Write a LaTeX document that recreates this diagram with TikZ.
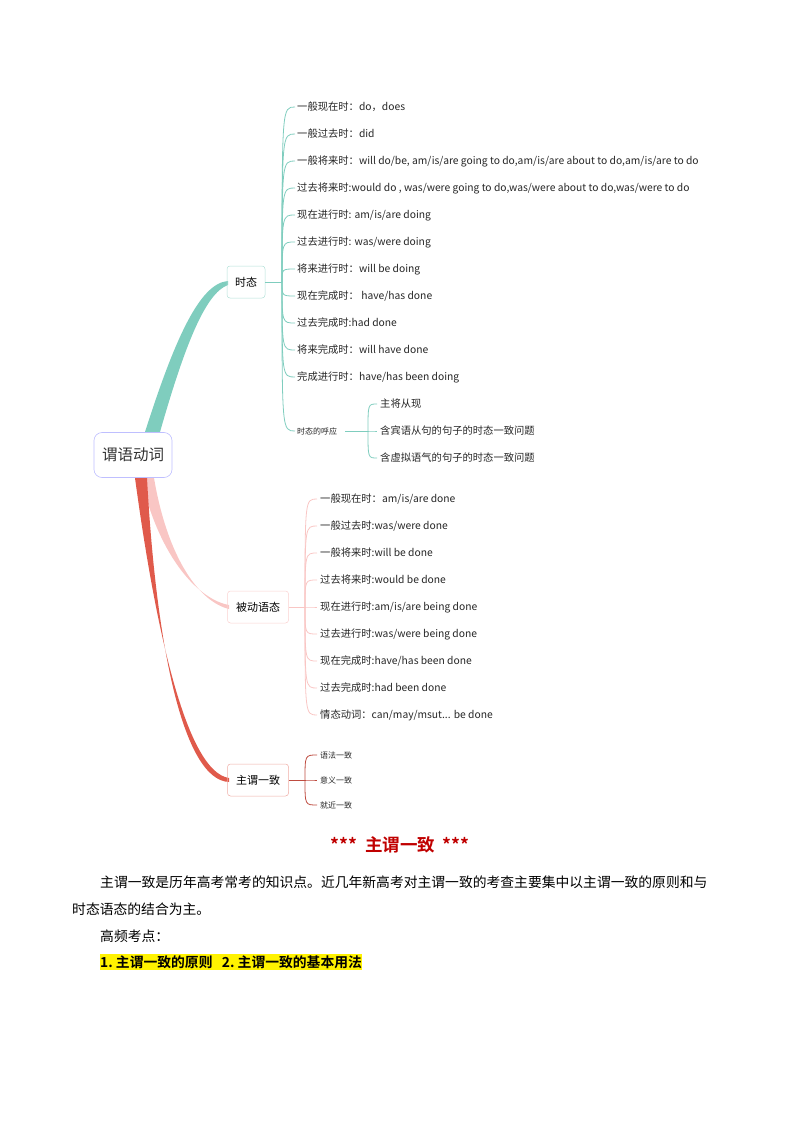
\documentclass[tikz,border=0pt]{standalone}
\usepackage{fontspec}
\setmainfont{Noto Sans CJK SC}
\newfontfamily\cjkb{Noto Sans CJK SC Bold}
\begin{document}
\begin{tikzpicture}[x=1pt,y=-1pt,
  leaf/.style={anchor=west,inner sep=0pt,font=\fontsize{10.3}{12}\selectfont,text=black!85},
  small/.style={anchor=west,inner sep=0pt,font=\fontsize{8}{9}\selectfont,text=black!85},
  mid/.style={draw=#1,rounded corners=3pt,line width=0.5pt,minimum height=32pt,inner xsep=6pt,font=\fontsize{11}{12}\selectfont},
  body/.style={anchor=west,inner sep=0pt,font=\fontsize{13.8}{16}\selectfont}]
\useasboundingbox (0,0) rectangle (794,1123);
\definecolor{teal1}{HTML}{7FCDBE}
\definecolor{pink1}{HTML}{F9C6C4}
\definecolor{red1}{HTML}{E05A4B}
\definecolor{dred}{HTML}{C00000}
% branches
\fill[teal1] (145,432) .. controls (175,338) and (200,283) .. (228,281) -- (228,285) .. controls (205,293) and (184,348) .. (160,432) -- cycle;
\fill[pink1] (141,478) .. controls (160,560) and (200,600) .. (229,605) -- (229,609) .. controls (200,602) and (168,560) .. (154,478) -- cycle;
\fill[red1] (135,478) .. controls (157,640) and (188,772) .. (229,778) -- (229,782) .. controls (183,780) and (156,645) .. (147,478) -- cycle;
\node[draw=blue!25,rounded corners=8pt,line width=0.6pt,minimum width=78pt,minimum height=45pt,fill=white,font=\fontsize{15.5}{17}\selectfont,text=black!80] (root) at (133,455) {谓语动词};
\node[mid=teal1!60,minimum width=38pt,inner xsep=0pt] (ts) at (246,282) {时态};
\node[mid=pink1!80,minimum width=61pt,inner xsep=0pt] (bd) at (258,607) {被动语态};
\node[mid=red1!50,minimum width=61pt,inner xsep=0pt] (zw) at (258,780) {主谓一致};
% tense leaves
\coordinate (tj) at (282,282);
\draw[teal1,line width=0.8pt] (ts.east) -- (tj);
\foreach \n/\y/\t in {a1/107/{一般现在时：do，does},a2/134/{一般过去时：did},a3/161/{一般将来时：will do/be, am/is/are going to do,am/is/are about to do,am/is/are to do},a4/188/{过去将来时:would do , was/were going to do,was/were about to do,was/were to do},a5/215/{现在进行时: am/is/are doing},a6/242/{过去进行时: was/were doing},a7/269/{将来进行时：will be doing},a8/296/{现在完成时： have/has done},a9/323/{过去完成时:had done},a10/350/{将来完成时：will have done},a11/377/{完成进行时：have/has been doing}}{
  \node[leaf] (\n) at (297,\y) {\t};
  \draw[teal1,line width=0.8pt] (tj) .. controls (282,\y) .. ([xshift=-2pt]\n.west);
}
\node[small] (hy) at (297,431) {时态的呼应};
\draw[teal1,line width=0.8pt] (tj) .. controls (282,431) .. ([xshift=-2pt]hy.west);
\coordinate (hj) at (368,431);
\draw[teal1,line width=0.8pt] ([xshift=8pt]hy.east) -- (hj);
\foreach \n/\y/\t in {b1/404/{主将从现},b2/431/{含宾语从句的句子的时态一致问题},b3/458/{含虚拟语气的句子的时态一致问题}}{
  \node[leaf] (\n) at (380,\y) {\t};
  \draw[teal1,line width=0.8pt] (hj) .. controls (368,\y) .. ([xshift=-3pt]\n.west);
}
% passive leaves
\coordinate (pj) at (305,607);
\draw[pink1,line width=0.8pt] (bd.east) -- (pj);
\foreach \n/\y/\t in {c1/499/{一般现在时：am/is/are done},c2/526/{一般过去时:was/were done},c3/553/{一般将来时:will be done},c4/580/{过去将来时:would be done},c5/607/{现在进行时:am/is/are being done},c6/634/{过去进行时:was/were being done},c7/661/{现在完成时:have/has been done},c8/688/{过去完成时:had been done},c9/715/{情态动词：can/may/msut... be done}}{
  \node[leaf] (\n) at (320,\y) {\t};
  \draw[pink1,line width=0.8pt] (pj) .. controls (305,\y) .. ([xshift=-3pt]\n.west);
}
% agreement leaves
\coordinate (zj) at (305,780);
\draw[red1!85!black,line width=0.8pt] (zw.east) -- (zj);
\foreach \n/\y/\t in {d1/755/{语法一致},d2/780/{意义一致},d3/805/{就近一致}}{
  \node[small] (\n) at (320,\y) {\t};
  \draw[red1!85!black,line width=0.8pt] (zj) .. controls (305,\y) .. ([xshift=-3pt]\n.west);
}
% text
\node[inner sep=0pt,text=dred,font=\cjkb\fontsize{17.5}{19}\selectfont] (title) at (400,845) {***\ \ 主谓一致\ \ ***};
\node[body] (p1) at (100,882) {主谓一致是历年高考常考的知识点。近几年新高考对主谓一致的考查主要集中以主谓一致的原则和与};
\node[body] (p2) at (72,909) {时态语态的结合为主。};
\node[body] (p3) at (100,936) {高频考点：};
\node[body,fill=yellow,inner ysep=1.5pt,font=\cjkb\fontsize{13.8}{16}\selectfont] (p4) at (100,962) {1.\ 主谓一致的原则\ \ \ 2.\ 主谓一致的基本用法};
\end{tikzpicture}
\end{document}
